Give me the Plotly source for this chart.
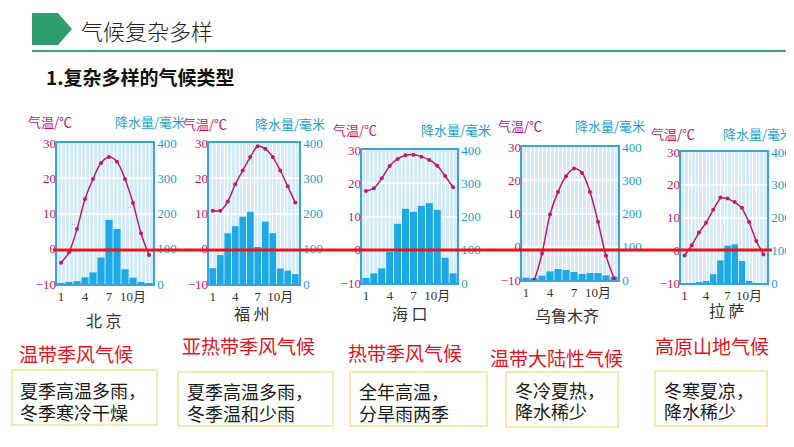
import plotly.graph_objects as go

# page offset of the plot div inside the browser body (default body margin)
OFF = 8
W, H = 794 - OFF, 447 - OFF

# ---------------- data ----------------
cities = ["北 京", "福 州", "海 口", "乌鲁木齐", "拉 萨"]
months = list(range(1, 13))
month_ticks = [1, 4, 7, 10]
month_tick_labels = ["1", "4", "7", "10月"]
temp_ticks = [-10, 0, 10, 20, 30]
precip_ticks = [0, 100, 200, 300, 400]

temp_beijing = [-4.0, -1.0, 5.6, 14.1, 19.8, 24.3, 26.0, 24.7, 19.8, 13.0, 4.4, -1.8]
temp_fuzhou = [10.8, 10.8, 13.4, 18.3, 22.2, 26.0, 29.1, 28.4, 26.0, 22.2, 17.7, 13.1]
temp_haikou = [17.7, 18.5, 21.5, 25.2, 27.3, 28.4, 28.6, 28.0, 27.0, 25.3, 22.2, 18.8]
temp_urumqi = [-13.0, -10.0, -2.0, 9.7, 16.5, 21.2, 23.5, 22.2, 16.5, 7.5, -2.7, -9.5]
temp_lhasa = [-1.6, 1.5, 5.4, 8.4, 12.4, 16.1, 15.8, 14.7, 13.0, 8.6, 2.8, -1.3]

precip_beijing = [2, 5, 8, 19, 33, 75, 182, 156, 42, 18, 6, 2]
precip_fuzhou = [45, 82, 144, 164, 191, 205, 105, 177, 144, 44, 38, 28]
precip_haikou = [15, 29, 44, 94, 178, 223, 214, 232, 240, 220, 76, 29]
precip_urumqi = [7, 6, 13, 26, 33, 30, 24, 18, 21, 21, 14, 10]
precip_lhasa = [0, 0, 1, 5, 27, 69, 114, 118, 67, 4, 0, 0]

temps = [temp_beijing, temp_fuzhou, temp_haikou, temp_urumqi, temp_lhasa]
precips = [precip_beijing, precip_fuzhou, precip_haikou, precip_urumqi, precip_lhasa]

climate_types = ["温带季风气候", "亚热带季风气候", "热带季风气候", "温带大陆性气候", "高原山地气候"]
climate_desc = [
    ["夏季高温多雨，", "冬季寒冷干燥"],
    ["夏季高温多雨，", "冬季温和少雨"],
    ["全年高温，", "分旱雨两季"],
    ["冬冷夏热，", "降水稀少"],
    ["冬寒夏凉，", "降水稀少"],
]

# ---------------- layout (pixel positions in the page) ----------------
panels = [  # x0, x1, y0, y1 (px)
    (57, 153, 143, 284),
    (209, 299, 143, 284),
    (362, 457, 150, 283),
    (522, 618, 147, 280),
    (681, 767, 152, 283),
]
temp_title_pos = [(50, 122), (205, 123), (355, 130), (520, 126), (673, 133)]
precip_title_pos = [(150, 122), (290, 123), (456, 130), (610, 126), (758, 133)]
city_pos = [(104, 320), (252, 313), (410, 313), (567, 315), (727, 310)]
type_pos = [(17, 353), (180, 345), (346, 352), (488, 357), (653, 345)]
boxes = [(12, 157, 370, 425), (178, 333, 372, 426), (350, 487, 372, 426),
         (506, 618, 372, 427), (655, 767, 371, 426)]
desc_pos = [(18, 390, 412), (185, 391, 413), (357, 391, 413), (513, 390, 411), (662, 390, 411)]
line_styles = ["spline", "spline", "spline", "spline", "linear"]

MAG = "#c4176c"
CYAN = "#1b9fd0"
BAR = "#1da8e6"
BG = "#d5ecf8"
BORDER = "#3aa3d8"
SERIF = "Liberation Serif, Noto Sans CJK SC, serif"
CJK = "Noto Sans CJK SC, sans-serif"


def px(x):
    return (x - OFF) / W


def py(y):
    return 1 - (y - OFF) / H


fig = go.Figure()
layout = dict(
    width=W, height=H, margin=dict(l=0, r=0, t=0, b=0, autoexpand=False),
    paper_bgcolor="white", plot_bgcolor=BG, showlegend=False,
    bargap=0.1,
)

annotations = []
shapes = []


def note(text, x, y, size, color, xanchor="center", family=CJK, weight=None):
    f = dict(family=family, size=size, color=color)
    if weight is not None:
        f["weight"] = weight
    annotations.append(dict(text=text, x=px(x), y=py(y), xref="paper", yref="paper",
                            xanchor=xanchor, yanchor="middle", showarrow=False, font=f))


for i in range(5):
    sx = "" if i == 0 else str(i + 1)
    oy = str(i + 6)
    x0, x1, y0, y1 = panels[i]
    fig.add_trace(go.Bar(
        x=months, y=precips[i], xaxis="x" + sx, yaxis="y" + sx,
        marker=dict(color=BAR, line=dict(width=0)), hoverinfo="skip",
    ))
    fig.add_trace(go.Scatter(
        x=months, y=temps[i], xaxis="x" + sx, yaxis="y" + oy,
        mode="lines+markers", cliponaxis=False,
        line=dict(color=MAG, width=1.5, shape=line_styles[i], smoothing=0.9),
        marker=dict(color=MAG, size=4), hoverinfo="skip",
    ))
    layout["xaxis" + sx] = dict(
        domain=[px(x0), px(x1)], anchor="y" + sx, range=[0.5, 12.5],
        tickvals=month_ticks, ticktext=month_tick_labels, ticks="",
        tickfont=dict(family=SERIF, size=13, color="#333333"),
        showgrid=True, gridcolor="white", gridwidth=1,
        minor=dict(tick0=0.5, dtick=0.5, showgrid=True, gridcolor="white", gridwidth=1, ticks=""),
        showline=True, mirror=True, linecolor=BORDER, linewidth=1.5,
        zeroline=False, fixedrange=True,
    )
    layout["yaxis" + sx] = dict(
        domain=[py(y1), py(y0)], anchor="x" + sx, side="right", range=[0, 400],
        tickvals=precip_ticks, ticks="",
        tickfont=dict(family=SERIF, size=13, color=CYAN),
        showgrid=True, gridcolor="white", gridwidth=1.5,
        showline=True, mirror=True, linecolor=BORDER, linewidth=1.5,
        zeroline=False, fixedrange=True,
    )
    layout["yaxis" + oy] = dict(
        overlaying="y" + sx, anchor="x" + sx, side="left", range=[-10, 30],
        tickvals=temp_ticks, ticks="",
        tickfont=dict(family=SERIF, size=13, color=MAG),
        showgrid=False, showline=False, zeroline=False, fixedrange=True,
    )
    note("气温/℃", *temp_title_pos[i], 13, MAG)
    note("降水量/毫米", *precip_title_pos[i], 13, CYAN)
    note(cities[i], *city_pos[i], 16, "#333333")
    note(climate_types[i], *type_pos[i], 19, "#e0141e", xanchor="left")
    bx0, bx1, by0, by1 = boxes[i]
    shapes.append(dict(type="rect", xref="paper", yref="paper",
                       x0=px(bx0), x1=px(bx1), y0=py(by1), y1=py(by0),
                       line=dict(color="#eeeeb4", width=2), fillcolor="white", layer="below"))
    dx, dy1, dy2 = desc_pos[i]
    for txt, dy in zip(climate_desc[i], (dy1, dy2)):
        note(txt, dx, dy, 18, "#1a1a1a", xanchor="left")

# header
pent = [(32, 13), (58, 13), (72, 29), (58, 45), (32, 45)]
path = "M " + " L ".join(f"{px(a):.5f},{py(b):.5f}" for a, b in pent) + " Z"
shapes.append(dict(type="path", xref="paper", yref="paper", path=path,
                   fillcolor="#2e9f6c", line=dict(width=0)))
shapes.append(dict(type="line", xref="paper", yref="paper", x0=px(32), x1=px(794),
                   y0=py(51), y1=py(51), line=dict(color="#3aa77a", width=2)))
note("气候复杂多样", 79, 30, 22, "#222222", xanchor="left", weight=300)
note("<b>1.复杂多样的气候类型</b>", 44, 76, 19, "#111111", xanchor="left")

# red zero line across all charts
shapes.append(dict(type="line", xref="paper", yref="paper", x0=px(53), x1=px(772),
                   y0=py(250), y1=py(250), line=dict(color="#e8141a", width=3), layer="above"))

layout["annotations"] = annotations
layout["shapes"] = shapes
fig.update_layout(**layout)
fig.write_html("out.html")
